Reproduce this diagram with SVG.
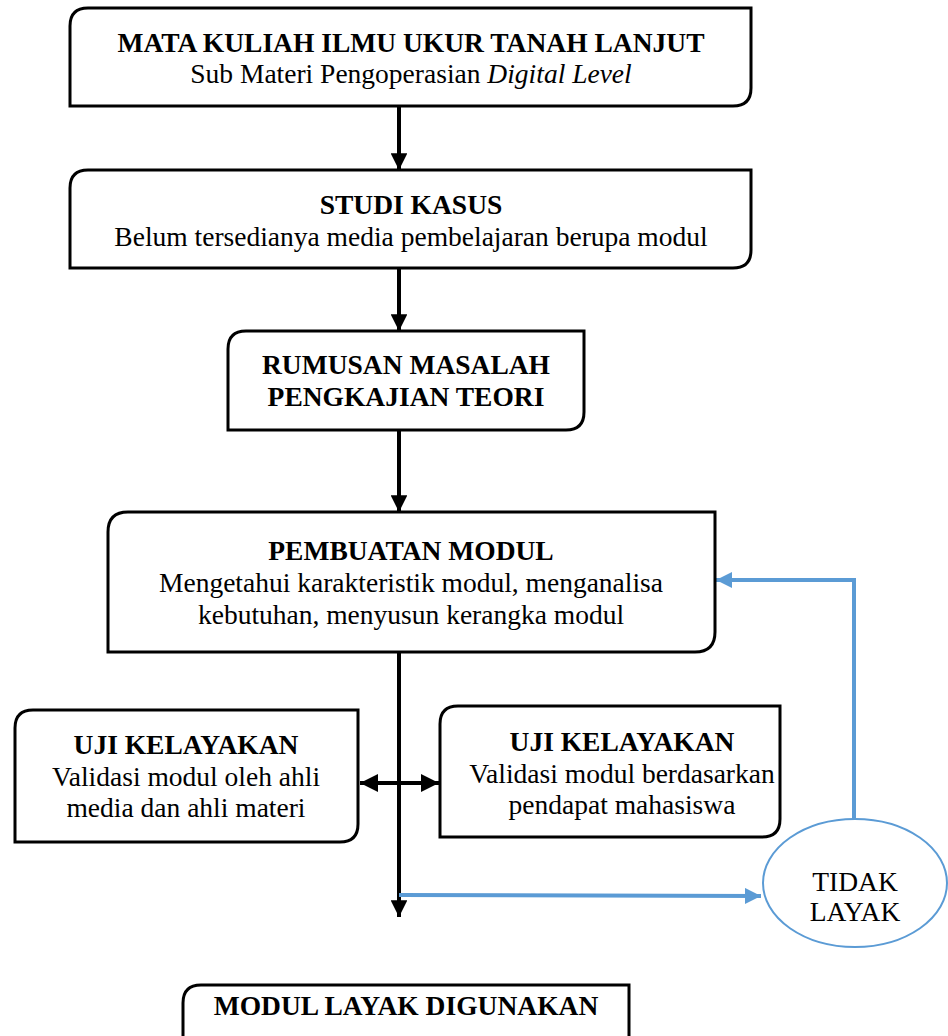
<svg xmlns="http://www.w3.org/2000/svg" width="948" height="1036" viewBox="0 0 948 1036">
  <defs>
    <style>
      .box { fill: #fff; stroke: #000; stroke-width: 3; }
      .t { font-family: "Liberation Serif", "Times New Roman", serif; font-size: 27.5px; fill: #000; text-anchor: middle; }
      .b { font-weight: bold; }
      .i { font-style: italic; }
      .flow { stroke: #000; stroke-width: 4; fill: none; }
      .blue { stroke: #5b9bd5; stroke-width: 4; fill: none; }
    </style>
    <marker id="ah" viewBox="0 0 10 10" refX="10" refY="5" markerWidth="4.5" markerHeight="4.2" orient="auto" markerUnits="strokeWidth">
      <path d="M0,0 L10,5 L0,10 z" fill="#000"/>
    </marker>
    <marker id="ahs" viewBox="0 0 10 10" refX="10" refY="5" markerWidth="4.5" markerHeight="4.5" orient="auto-start-reverse" markerUnits="strokeWidth">
      <path d="M0,0 L10,5 L0,10 z" fill="#000"/>
    </marker>
    <marker id="ahb" viewBox="0 0 10 10" refX="10" refY="5" markerWidth="4" markerHeight="4" orient="auto" markerUnits="strokeWidth">
      <path d="M0,0 L10,5 L0,10 z" fill="#5b9bd5"/>
    </marker>
  </defs>

  <!-- connectors -->
  <g id="connectors">
    <line class="flow" x1="399" y1="106" x2="399" y2="170" marker-end="url(#ah)"/>
    <line class="flow" x1="399" y1="268" x2="399" y2="331" marker-end="url(#ah)"/>
    <line class="flow" x1="399" y1="430" x2="399" y2="512" marker-end="url(#ah)"/>
    <line class="flow" x1="399" y1="652" x2="399" y2="917" marker-end="url(#ah)"/>
    <line class="flow" x1="360" y1="783" x2="439" y2="783" marker-start="url(#ahs)" marker-end="url(#ahs)"/>
    <line class="blue" x1="399" y1="895" x2="761" y2="896" marker-end="url(#ahb)"/>
    <polyline class="blue" points="854,838 854,580 716,580" marker-end="url(#ahb)"/>
  </g>

  <!-- nodes: rectangles with rounded top-left and bottom-right corners -->
  <g id="mata-kuliah">
    <path class="box" d="M88,8 H751 V88 Q751,106 733,106 H70 V26 Q70,8 88,8 Z"/>
    <text class="t b" x="411" y="52">MATA KULIAH ILMU UKUR TANAH LANJUT</text>
    <text class="t" x="411" y="83">Sub Materi Pengoperasian <tspan class="i">Digital Level</tspan></text>
  </g>

  <g id="studi-kasus">
    <path class="box" d="M88,170 H751 V250 Q751,268 733,268 H70 V188 Q70,170 88,170 Z"/>
    <text class="t b" x="411" y="214">STUDI KASUS</text>
    <text class="t" x="411" y="246">Belum tersedianya media pembelajaran berupa modul</text>
  </g>

  <g id="rumusan-masalah">
    <path class="box" d="M246,331 H584 V412 Q584,430 566,430 H228 V349 Q228,331 246,331 Z"/>
    <text class="t b" x="406" y="374">RUMUSAN MASALAH</text>
    <text class="t b" x="406" y="406">PENGKAJIAN TEORI</text>
  </g>

  <g id="pembuatan-modul">
    <path class="box" d="M128,512 H715 V632 Q715,652 695,652 H108 V532 Q108,512 128,512 Z"/>
    <text class="t b" x="411" y="560">PEMBUATAN MODUL</text>
    <text class="t" x="411" y="592">Mengetahui karakteristik modul, menganalisa</text>
    <text class="t" x="411" y="624">kebutuhan, menyusun kerangka modul</text>
  </g>

  <g id="uji-ahli">
    <path class="box" d="M33,710 H358 V824 Q358,842 340,842 H15 V728 Q15,710 33,710 Z"/>
    <text class="t b" x="186" y="754">UJI KELAYAKAN</text>
    <text class="t" x="186" y="786">Validasi modul oleh ahli</text>
    <text class="t" x="186" y="817">media dan ahli materi</text>
  </g>

  <g id="uji-mahasiswa">
    <path class="box" d="M458,706 H780 V819 Q780,837 762,837 H440 V724 Q440,706 458,706 Z"/>
    <text class="t b" x="622" y="751">UJI KELAYAKAN</text>
    <text class="t" x="622" y="783">Validasi modul berdasarkan</text>
    <text class="t" x="622" y="814">pendapat mahasiswa</text>
  </g>

  <g id="tidak-layak">
    <ellipse cx="855" cy="883" rx="92" ry="64" fill="#fff" stroke="#5b9bd5" stroke-width="2"/>
    <text class="t" x="855" y="891" font-size="24">TIDAK</text>
    <text class="t" x="855" y="921" font-size="24">LAYAK</text>
  </g>

  <g id="modul-layak">
    <path class="box" d="M201,985 H629 V1040 H183 V1003 Q183,985 201,985 Z"/>
    <text class="t b" x="406" y="1015">MODUL LAYAK DIGUNAKAN</text>
  </g>
</svg>
